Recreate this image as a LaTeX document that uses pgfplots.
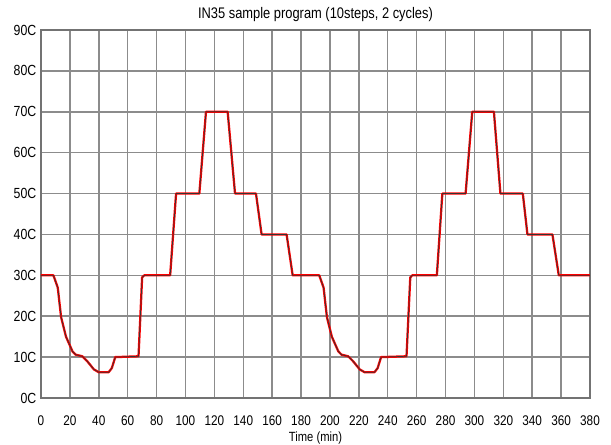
\documentclass[border=0pt]{standalone}
\usepackage{fontspec}
\setmainfont{Liberation Sans}[FakeStretch=0.84]
\usepackage{pgfplots}
\pgfplotsset{compat=1.18}
\begin{document}
\begin{tikzpicture}[x=0.75pt,y=0.75pt]
\path[use as bounding box] (-41,-46) rectangle (570,398);
\begin{axis}[
  scale only axis,
  width=411.75pt, height=276pt,
  at={(0,0)}, anchor=south west,
  xmin=0, xmax=380, ymin=0, ymax=90,
  xtick={0,20,...,380}, ytick={0,10,...,90},
  major tick length=0pt,
  grid=major,
  major grid style={draw=black!45, line width=1.1pt},
  axis line style={draw=black!55, line width=1.4pt},
  /pgf/number format/assume math mode=true,
  yticklabel={\pgfmathprintnumber{\tick}C},
  xticklabel style={yshift=-9.5pt, font=\fontsize{10.5}{12}\selectfont},
  yticklabel style={font=\fontsize{11}{13}\selectfont},
  title={IN35 sample program (10steps, 2 cycles)},
  title style={font=\fontsize{11.5}{13}\selectfont, yshift=-3pt},
  xlabel={Time (min)},
  xlabel style={font=\fontsize{10}{12}\selectfont, yshift=2pt},
]
\addplot[red, line width=1.7pt, line join=round] coordinates {
(0,30) (8.6,30) (11.6,27) (13.9,19.8) (17.3,15) (21.8,11.4) (24,10.6) (28.6,10.2) (32,9) (36.6,7) (40,6.3) (46.8,6.3) (49,7.3) (51.4,10) (67.5,10.2) (70,29.5) (71.5,30)
(89.4,30) (93.5,50) (109.6,50) (114.2,70) (129.2,70) (134.3,50) (148.8,50) (152.7,40) (170,40) (174.2,30)
(192.6,30) (195.6,27) (197.9,19.8) (201.3,15) (205.8,11.4) (208,10.6) (212.6,10.2) (216,9) (220.6,7) (224,6.3) (230.8,6.3) (233,7.3) (235.4,10) (253,10.2) (255.6,29.5) (257,30)
(274,30) (277.8,50) (293.9,50) (298.5,70) (313.5,70) (318,50) (333.5,50) (336.7,40) (354,40) (358.4,30) (380,30)
};
\addplot[black!80, line width=0.5pt, line join=round] coordinates {
(0,30) (8.6,30) (11.6,27) (13.9,19.8) (17.3,15) (21.8,11.4) (24,10.6) (28.6,10.2) (32,9) (36.6,7) (40,6.3) (46.8,6.3) (49,7.3) (51.4,10) (67.5,10.2) (70,29.5) (71.5,30)
(89.4,30) (93.5,50) (109.6,50) (114.2,70) (129.2,70) (134.3,50) (148.8,50) (152.7,40) (170,40) (174.2,30)
(192.6,30) (195.6,27) (197.9,19.8) (201.3,15) (205.8,11.4) (208,10.6) (212.6,10.2) (216,9) (220.6,7) (224,6.3) (230.8,6.3) (233,7.3) (235.4,10) (253,10.2) (255.6,29.5) (257,30)
(274,30) (277.8,50) (293.9,50) (298.5,70) (313.5,70) (318,50) (333.5,50) (336.7,40) (354,40) (358.4,30) (380,30)
};
\end{axis}
\end{tikzpicture}
\end{document}
